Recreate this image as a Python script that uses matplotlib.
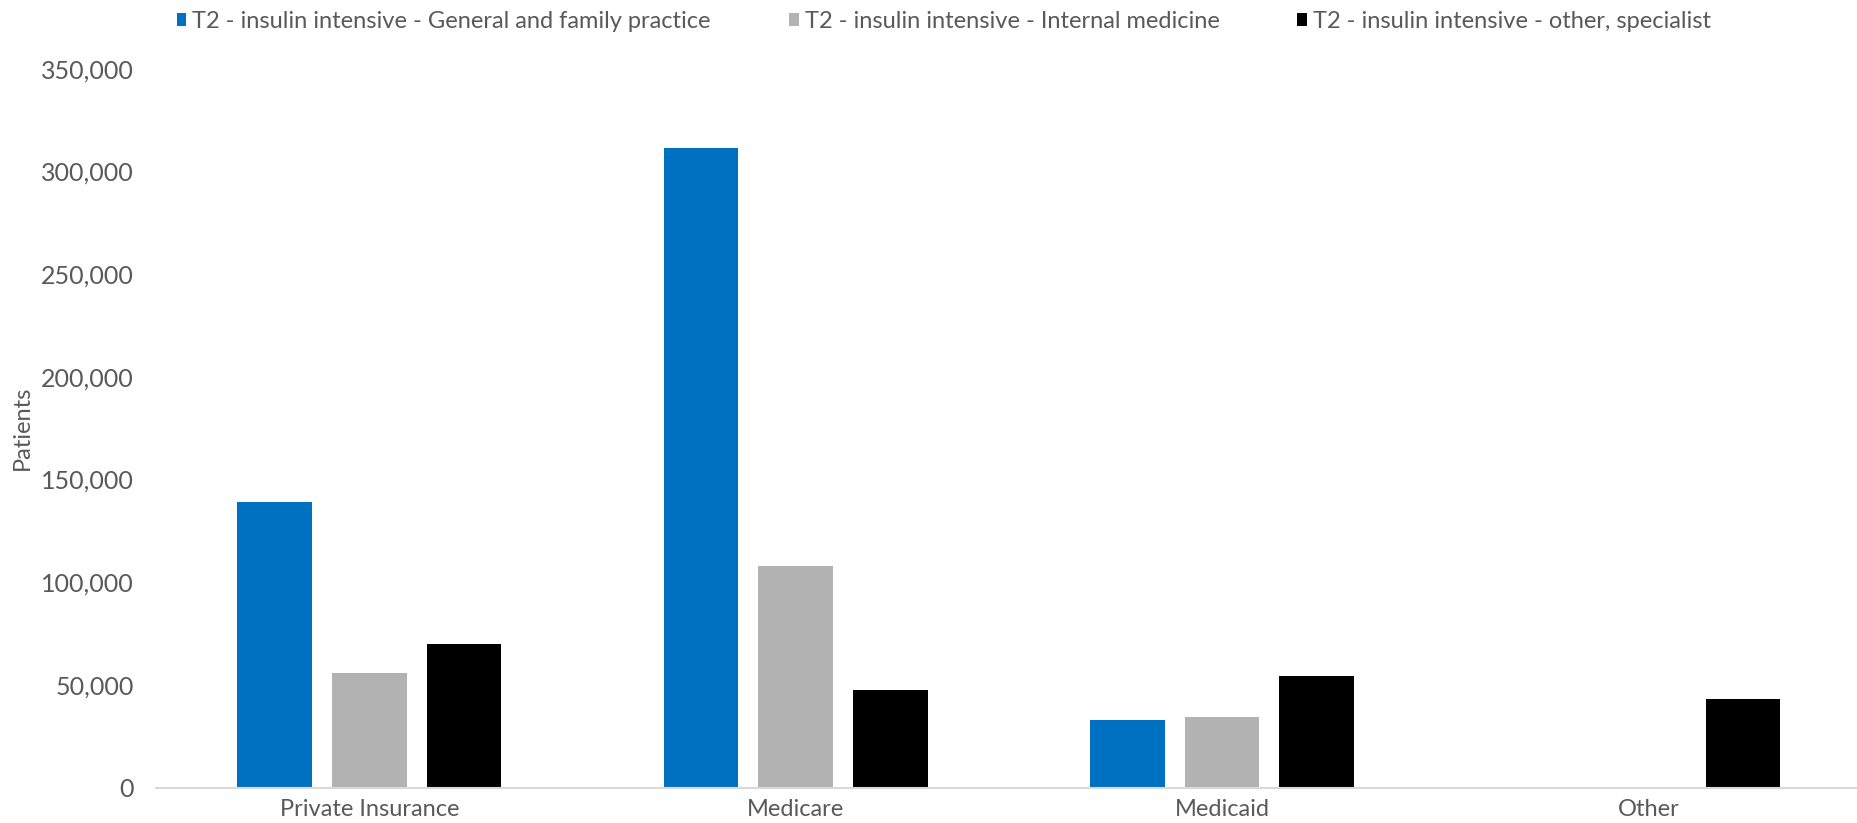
import matplotlib.pyplot as plt
import numpy as np
from matplotlib.ticker import FuncFormatter

plt.rcParams['font.family'] = ['Lato', 'DejaVu Sans']

# Data
categories = ["Private Insurance", "Medicare", "Medicaid", "Other"]
series_names = [
    "T2 - insulin intensive - General and family practice",
    "T2 - insulin intensive - Internal medicine",
    "T2 - insulin intensive - other, specialist",
]
general_family = [139000, 311500, 32800, 0]
internal_med = [55900, 107800, 34600, 0]
other_specialist = [69800, 47300, 54200, 43200]
colors = ["#0070c0", "#b2b2b2", "#000000"]

fig = plt.figure(figsize=(18.58, 8.23), dpi=100)
ax = fig.add_axes([0.084, 0.043, 0.918, 0.8735])

x = np.arange(len(categories))
width = 0.175
step = 0.222
for i, (vals, name, col) in enumerate(zip([general_family, internal_med, other_specialist], series_names, colors)):
    ax.bar(x + (i - 1) * step, vals, width, color=col, label=name)

ax.set_xlim(-0.5, 3.5)
ax.set_ylim(0, 350000)
ax.set_yticks(np.arange(0, 350001, 50000))
ax.yaxis.set_major_formatter(FuncFormatter(lambda v, p: f"{int(v):,}"))
ax.set_xticks(x)
ax.set_xticklabels(categories)
ax.tick_params(axis='both', length=0, labelsize=17, colors="#595959")
ax.tick_params(axis='y', labelsize=18, pad=16)
ax.tick_params(axis='x', pad=8)
for s in ['top', 'right', 'left']:
    ax.spines[s].set_visible(False)
ax.spines['bottom'].set_color("#d9d9d9")
ax.spines['bottom'].set_linewidth(1.5)
ax.set_ylabel("Patients", fontsize=17, color="#595959", labelpad=6)

fig.legend(loc='center left', bbox_to_anchor=(0.095, 0.974), ncol=3, frameon=False,
           fontsize=17, labelcolor="#595959", handlelength=0.42, handleheight=0.42,
           handletextpad=0.25, columnspacing=3.3, borderaxespad=0, borderpad=0)

plt.savefig("out.png", dpi=100)
